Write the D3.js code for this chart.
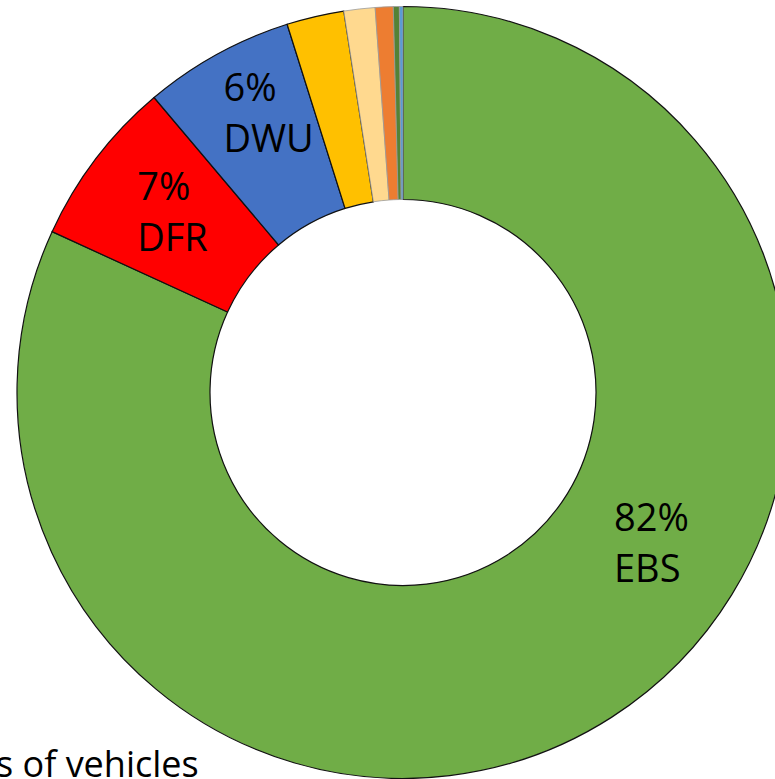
<!DOCTYPE html>
<html>
<head>
<meta charset="utf-8">
<script src="https://cdn.jsdelivr.net/npm/d3@7"></script>
<style>
  html, body { margin: 0; padding: 0; background: #fff; overflow: hidden; }
  text { font-family: "Open Sans", "DejaVu Sans", sans-serif; fill: #000; }
</style>
</head>
<body>
<script>
// shares of vehicles, clockwise from 12 o'clock
const categories = ["EBS", "DFR", "DWU", "C4", "C5", "C6", "C7", "C8"];
const shares = [81.8, 7.0, 6.3, 2.4, 1.3, 0.75, 0.25, 0.15];
const labels = ["82%", "7%", "6%", "", "", "", "", ""];
const colours = ["#70ad47", "#ff0000", "#4472c4", "#ffc000", "#ffd98f", "#ed7d31", "#548235", "#5b9bd5"];

const width = 775, height = 779;
const cx = 403, cy = 392.5;
const outerR = 386, innerR = 193;

const svg = d3.select("body").append("svg")
   .attr("width", width)
   .attr("height", height);

const data = categories.map((c, i) => ({ name: c, value: shares[i], label: labels[i], colour: colours[i] }));

const pie = d3.pie().sort(null).value(d => d.value);
const arc = d3.arc().innerRadius(innerR).outerRadius(outerR);
const arcs = pie(data);

const g = svg.append("g").attr("transform", `translate(${cx},${cy})`);

g.selectAll("path")
   .data(arcs)
   .enter()
   .append("path")
   .attr("d", arc)
   .attr("fill", d => d.data.colour)
   .attr("stroke", (d, i) => i < 4 ? "#111" : "#9a9a9a")
   .attr("stroke-width", (d, i) => i < 4 ? 1.2 : 0.8);

// labels sit near the slice centroid, moved by hand like in the original
const labelArc = d3.arc().innerRadius(300).outerRadius(300);
const nudge = {
   EBS: [49, -114],
   DFR: [-27, -11],
   DWU: [-35, -29]
};

arcs.filter(d => d.data.label).forEach(d => {
   const c = labelArc.centroid(d);
   const n = nudge[d.data.name];
   const x = c[0] + n[0], y = c[1] + n[1];
   const t = g.append("text")
      .attr("x", x)
      .attr("y", y)
      .attr("font-size", 38);
   t.append("tspan").attr("x", x).text(d.data.label);
   t.append("tspan").attr("x", x).attr("dy", 51).text(d.data.name);
});

svg.append("text")
   .attr("x", -4)
   .attr("y", 777)
   .attr("font-size", 36)
   .text("s of vehicles");
</script>
</body>
</html>
